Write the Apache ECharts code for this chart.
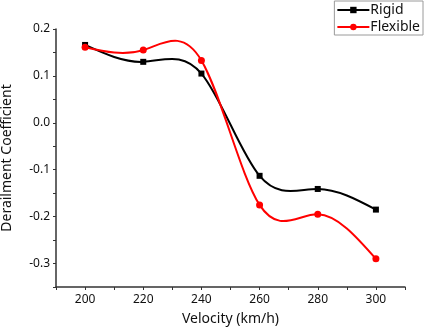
<!DOCTYPE html>
<html><head><meta charset="utf-8">
<script src="https://cdn.jsdelivr.net/npm/echarts@6/dist/echarts.min.js"></script>
<style>html,body{margin:0;padding:0;background:#fff}#c{width:425px;height:328px}</style>
</head><body><div id="c"></div>
<script>
var velocities = [200, 220, 240, 260, 280, 300];
var rigid = [0.166, 0.130, 0.105, -0.113, -0.141, -0.185];
var flexible = [0.161, 0.155, 0.133, -0.175, -0.195, -0.290];
var seriesNames = ['Rigid', 'Flexible'];
var colors = ['#000000', '#ff0000'];
var xName = 'Velocity (km/h)';
var yName = 'Derailment Coefficient';

function pairs(xs, ys){ return xs.map(function(x,i){ return [x, ys[i]]; }); }

// natural cubic spline knot slopes -> one cubic Bezier segment per data interval
function splineSegments(xs, ys){
  var n = xs.length, h = [], i;
  for (i = 0; i < n-1; i++) h.push(xs[i+1]-xs[i]);
  var a = new Array(n).fill(0), b = new Array(n).fill(1), c = new Array(n).fill(0), d = new Array(n).fill(0);
  for (i = 1; i < n-1; i++){
    a[i] = h[i-1]/6; b[i] = (h[i-1]+h[i])/3; c[i] = h[i]/6;
    d[i] = (ys[i+1]-ys[i])/h[i] - (ys[i]-ys[i-1])/h[i-1];
  }
  var cp = new Array(n).fill(0), dp = new Array(n).fill(0), M = new Array(n).fill(0);
  cp[0] = c[0]/b[0]; dp[0] = d[0]/b[0];
  for (i = 1; i < n; i++){
    var den = b[i] - a[i]*cp[i-1];
    cp[i] = c[i]/den; dp[i] = (d[i] - a[i]*dp[i-1])/den;
  }
  M[n-1] = dp[n-1];
  for (i = n-2; i >= 0; i--) M[i] = dp[i] - cp[i]*M[i+1];
  var segs = [];
  for (i = 0; i < n-1; i++){
    var s = (ys[i+1]-ys[i])/h[i];
    var m0 = s - h[i]*(2*M[i] + M[i+1])/6;
    var m1 = s + h[i]*(M[i] + 2*M[i+1])/6;
    segs.push([xs[i], ys[i], xs[i+1], ys[i+1], m0, m1]);
  }
  return segs;
}

function curveSeries(name, xs, ys, color, z){
  return {
    type: 'custom', name: name + ' curve', z: z, silent: true,
    data: splineSegments(xs, ys),
    encode: {x: [0, 2], y: [1, 3]},
    renderItem: function(params, api){
      var x0 = api.value(0), y0 = api.value(1), x1 = api.value(2), y1 = api.value(3);
      var m0 = api.value(4), m1 = api.value(5), hh = (x1 - x0)/3;
      var p0 = api.coord([x0, y0]);
      var c1 = api.coord([x0 + hh, y0 + m0*hh]);
      var c2 = api.coord([x1 - hh, y1 - m1*hh]);
      var p3 = api.coord([x1, y1]);
      return {
        type: 'bezierCurve',
        shape: {x1: p0[0], y1: p0[1], cpx1: c1[0], cpy1: c1[1], cpx2: c2[0], cpy2: c2[1], x2: p3[0], y2: p3[1]},
        style: {stroke: color, lineWidth: 2, fill: null}
      };
    }
  };
}

var font = 'Noto Sans';
var chart = echarts.init(document.getElementById('c'), null, {renderer:'canvas'});
chart.setOption({
  animation: false,
  backgroundColor: '#fff',
  textStyle: {fontFamily: font},
  grid: {left: 56, right: 20, top: 29, bottom: 41, containLabel: false, outerBoundsMode: 'none'},
  legend: {
    orient: 'vertical', right: 2, top: 1,
    data: [
      {name: seriesNames[0], lineStyle: {color: colors[0], width: 2, opacity: 1}},
      {name: seriesNames[1], lineStyle: {color: colors[1], width: 2, opacity: 1}}
    ],
    borderColor: '#9a9a9a', borderWidth: 1,
    padding: [2, 3, 1, 2], itemGap: 3,
    itemWidth: 32, itemHeight: 8,
    textStyle: {fontSize: 14, color: '#111', fontFamily: font, padding: [0,0,0,-4]}
  },
  xAxis: {
    type: 'value', min: 190, max: 310, interval: 10,
    name: xName, nameLocation: 'middle', nameGap: 25,
    nameTextStyle: {fontSize: 14, color: '#111'},
    axisLine: {onZero: false, lineStyle: {color: '#333', width: 1.5}},
    axisTick: {length: 3, lineStyle: {color: '#333'}},
    splitLine: {show: false},
    axisLabel: {fontSize: 12, color: '#111', margin: 7,
      formatter: function(v){ return (Math.round(v) % 20 === 0) ? String(Math.round(v)) : ''; }}
  },
  yAxis: {
    type: 'value', min: -0.35, max: 0.2, interval: 0.05,
    name: yName, nameLocation: 'middle', nameGap: 42,
    nameTextStyle: {fontSize: 14, color: '#111'},
    axisLine: {show: true, onZero: false, lineStyle: {color: '#333', width: 1.5}},
    axisTick: {show: true, length: 3, lineStyle: {color: '#333'}},
    splitLine: {show: false},
    axisLabel: {fontSize: 12, color: '#111', margin: 6,
      formatter: function(v){ var r = Math.round(v*100); return (r % 10 === 0) ? (v).toFixed(1) : ''; }}
  },
  series: [
    curveSeries(seriesNames[0], velocities, rigid, colors[0], 2),
    curveSeries(seriesNames[1], velocities, flexible, colors[1], 3),
    {name: seriesNames[0], type: 'line', data: pairs(velocities, rigid), z: 4,
     symbol: 'rect', symbolSize: 6, showAllSymbol: true,
     lineStyle: {color: colors[0], width: 2, opacity: 0}, itemStyle: {color: colors[0]}},
    {name: seriesNames[1], type: 'line', data: pairs(velocities, flexible), z: 5,
     symbol: 'circle', symbolSize: 7, showAllSymbol: true,
     lineStyle: {color: colors[1], width: 2, opacity: 0}, itemStyle: {color: colors[1]}}
  ]
});
</script></body></html>
